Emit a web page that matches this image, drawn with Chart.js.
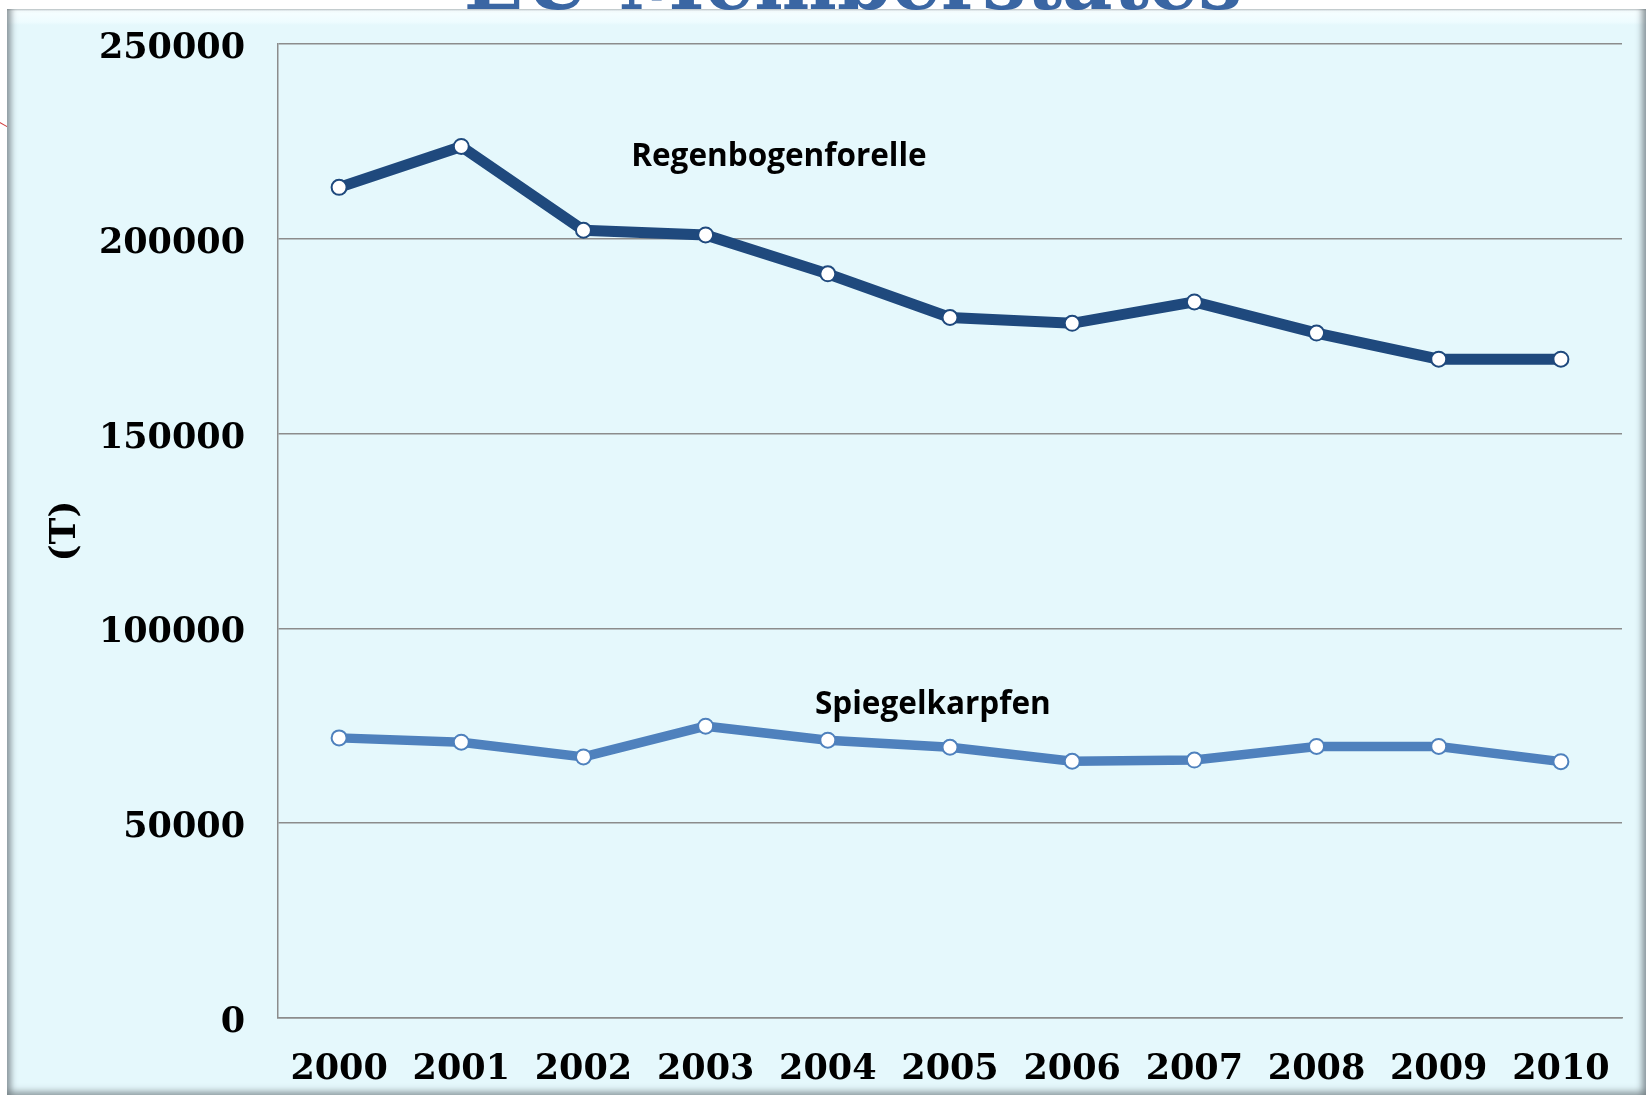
<!DOCTYPE html>
<html>
<head>
<meta charset="utf-8">
<script src="https://cdn.jsdelivr.net/npm/chart.js@4.4.1/dist/chart.umd.min.js"></script>
<style>
  html, body { margin:0; padding:0; background:#ffffff; width:1646px; height:1095px; overflow:hidden; position:relative; }
  #frame {
    position:absolute; left:7px; top:9px; width:1639px; height:1086px; box-sizing:border-box;
    background:#E5F8FC;
    background-image:linear-gradient(to bottom, #c4cbce 0px, #f6feff 2px, #eefcff 13px, #E5F8FC 16px);
    box-shadow: inset 8px 0 6px -4px rgba(110,120,125,0.75),
                inset -8px 0 6px -4px rgba(110,120,125,0.75),
                inset 0 -8px 6px -4px rgba(120,130,135,0.65);
  }
  #title {
    position:absolute; left:0; width:1706px; top:-57px; text-align:center;
    font-family:"DejaVu Serif", serif; font-weight:bold; font-size:78px; line-height:1;
    color:#3A66A3; white-space:nowrap;
  }
  #red { position:absolute; left:0; top:122px; width:9px; height:1px; background:#d04040; transform:rotate(30deg); transform-origin:0 0; }
  #c { position:absolute; left:0; top:0; }
</style>
</head>
<body>
<div id="red"></div>
<div id="frame"></div>
<div id="title">EU Memberstates</div>
<canvas id="c" width="1646" height="1095"></canvas>
<script>
const years = ['2000','2001','2002','2003','2004','2005','2006','2007','2008','2009','2010'];
const regenbogenforelle = [213200, 223700, 202200, 201000, 191000, 179800, 178300, 183800, 175800, 169100, 169100];
const spiegelkarpfen = [71900, 70800, 67000, 74900, 71300, 69500, 65900, 66200, 69700, 69700, 65800];
const yTickValues = [0, 50000, 100000, 150000, 200000, 250000];
const seriesNames = ['Regenbogenforelle', 'Spiegelkarpfen'];
// label anchors: category index (fractional) and value
const labelAnchorIndex = [3.6, 4.86];
const labelAnchorValue = [220900, 80300];

const serifBold = { family: 'DejaVu Serif', weight: 'bold', size: 35 };

const seriesLabelPlugin = {
  id: 'seriesLabels',
  afterDatasetsDraw(chart) {
    const { ctx, scales: { x, y } } = chart;
    ctx.save();
    ctx.font = 'bold 31.5px "Open Sans", "Noto Sans", sans-serif';
    ctx.fillStyle = '#000';
    ctx.textAlign = 'center';
    ctx.textBaseline = 'middle';
    seriesNames.forEach((name, i) => {
      ctx.fillText(name, x.getPixelForValue(labelAnchorIndex[i]), y.getPixelForValue(labelAnchorValue[i]));
    });
    ctx.restore();
  }
};

new Chart(document.getElementById('c'), {
  type: 'line',
  data: {
    labels: years,
    datasets: [
      {
        label: seriesNames[0], data: regenbogenforelle,
        borderColor: '#1F497D', borderWidth: 11, tension: 0,
        pointRadius: 7.5, pointBorderWidth: 2, pointBackgroundColor: '#ffffff', pointBorderColor: '#1F497D'
      },
      {
        label: seriesNames[1], data: spiegelkarpfen,
        borderColor: '#4F81BD', borderWidth: 9.5, tension: 0,
        pointRadius: 7.5, pointBorderWidth: 2, pointBackgroundColor: '#ffffff', pointBorderColor: '#4F81BD'
      }
    ]
  },
  options: {
    responsive: false,
    animation: false,
    layout: { padding: { left: 0, top: 44, right: 24, bottom: 0 } },
    plugins: { legend: { display: false }, tooltip: { enabled: false }, title: { display: false } },
    scales: {
      x: {
        offset: true,
        grid: { display: false, drawTicks: false },
        border: { display: true, color: '#8c8c8c', width: 1.5 },
        ticks: { font: serifBold, color: '#000', padding: 31, maxRotation: 0, autoSkip: false },
        afterFit: s => { s.height = 77; s.paddingLeft = 0; s.paddingRight = 0; }
      },
      y: {
        min: 0, max: 250000,
        afterBuildTicks: s => { s.ticks = yTickValues.map(v => ({ value: v })); },
        ticks: { font: serifBold, color: '#000', padding: 33, labelOffset: 5, callback: v => String(v) },
        grid: { color: '#8c8c8c', lineWidth: 1.5, drawTicks: false },
        border: { display: true, color: '#8c8c8c', width: 1.5 },
        title: { display: true, text: '(T)', font: { family: 'DejaVu Serif', weight: 'bold', size: 36 }, color: '#000', padding: { top: 44, bottom: 0 } },
        afterFit: s => { s.width = 278; s.paddingTop = 0; s.paddingBottom = 0; }
      }
    }
  },
  plugins: [seriesLabelPlugin]
});
</script>
</body>
</html>
